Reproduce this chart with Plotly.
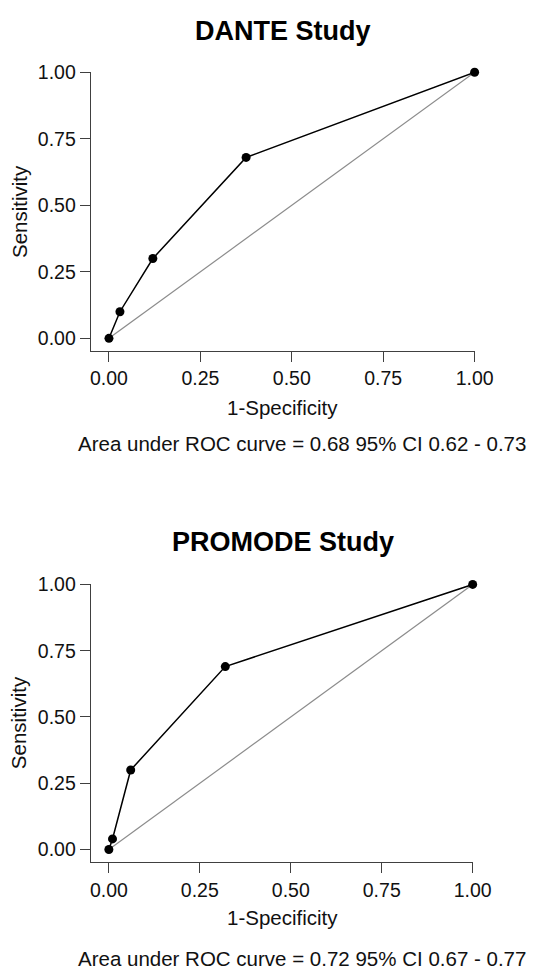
import plotly.graph_objects as go

W, H = 538, 970

# Data
dante_fpr = [0.0, 0.03, 0.12, 0.375, 1.0]
dante_sens = [0.0, 0.10, 0.30, 0.68, 1.0]
promode_fpr = [0.0, 0.01, 0.06, 0.32, 1.0]
promode_sens = [0.0, 0.04, 0.30, 0.69, 1.0]
ref_line = [0.0, 1.0]
tick_vals = [0.0, 0.25, 0.5, 0.75, 1.0]
tick_text = ["0.00", "0.25", "0.50", "0.75", "1.00"]
titles = ["DANTE Study", "PROMODE Study"]
footnotes = ["Area under ROC curve = 0.68 95% CI 0.62 - 0.73",
             "Area under ROC curve = 0.72 95% CI 0.67 - 0.77"]

FONT = "Liberation Sans, Arial, Helvetica, sans-serif"
AXC = "#404040"

def px_x(p):
    return p / W

def px_y(p):
    return 1 - p / H

fig = go.Figure()

panels = [
    dict(fpr=dante_fpr, sens=dante_sens, xa="x", ya="y",
         xdom=[px_x(94), px_x(492)], ydom=[px_y(344), px_y(62)],
         title_y=20, xt_y=401, foot_y=437, yt_y=203),
    dict(fpr=promode_fpr, sens=promode_sens, xa="x2", ya="y2",
         xdom=[px_x(94), px_x(490)], ydom=[px_y(861), px_y(580)],
         title_y=537, xt_y=917, foot_y=958, yt_y=720),
]

annotations = []
for i, p in enumerate(panels):
    fig.add_trace(go.Scatter(x=ref_line, y=ref_line, mode="lines",
                             line=dict(color="#8c8c8c", width=1.2),
                             xaxis=p["xa"], yaxis=p["ya"], showlegend=False,
                             cliponaxis=False, hoverinfo="skip"))
    fig.add_trace(go.Scatter(x=p["fpr"], y=p["sens"], mode="lines+markers",
                             line=dict(color="black", width=1.5),
                             marker=dict(color="black", size=9),
                             xaxis=p["xa"], yaxis=p["ya"], showlegend=False,
                             cliponaxis=False))
    suffix = "" if i == 0 else "2"
    common = dict(showgrid=False, zeroline=False, showline=True, linecolor=AXC,
                  linewidth=1, ticks="outside", ticklen=10, tickwidth=1,
                  tickcolor=AXC, tickvals=tick_vals, ticktext=tick_text,
                  tickfont=dict(family=FONT, size=19.5, color="#111"),
                  mirror=False)
    fig.layout["xaxis" + suffix] = dict(domain=p["xdom"], range=[-0.05, 1.0],
                                        anchor="y" + suffix, **common)
    fig.layout["yaxis" + suffix] = dict(domain=p["ydom"], range=[-0.048, 1.0],
                                        anchor="x" + suffix, **common)
    annotations.append(dict(text="<b>%s</b>" % titles[i], x=px_x(293), y=px_y(p["title_y"]),
                            xref="paper", yref="paper", showarrow=False,
                            xanchor="center", yanchor="middle",
                            font=dict(family=FONT, size=27, color="black")))
    annotations.append(dict(text="1-Specificity", x=px_x(293), y=px_y(p["xt_y"]),
                            xref="paper", yref="paper", showarrow=False,
                            xanchor="center", yanchor="middle",
                            font=dict(family=FONT, size=20.5, color="#111")))
    annotations.append(dict(text=footnotes[i], x=px_x(313), y=px_y(p["foot_y"]),
                            xref="paper", yref="paper", showarrow=False,
                            xanchor="center", yanchor="middle",
                            font=dict(family=FONT, size=20.5, color="#111")))
    annotations.append(dict(text="Sensitivity", x=px_x(20), y=px_y(p["yt_y"]),
                            xref="paper", yref="paper", showarrow=False,
                            xanchor="center", yanchor="middle", textangle=-90,
                            font=dict(family=FONT, size=20.5, color="#111")))

fig.update_layout(width=W, height=H, margin=dict(l=0, r=0, t=0, b=0),
                  paper_bgcolor="white", plot_bgcolor="white",
                  annotations=annotations, font=dict(family=FONT))

fig.write_html("out.html", config={"displayModeBar": False},
               post_script="document.body.style.margin='0';document.body.style.padding='0';")
